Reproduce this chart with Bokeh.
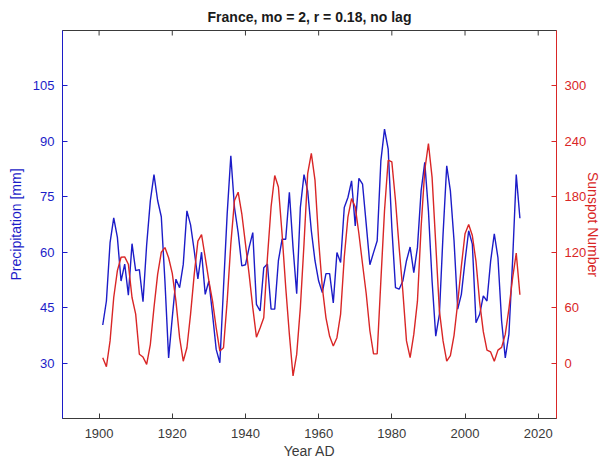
import math

from bokeh.plotting import figure
from bokeh.models import LinearAxis, Range1d, FixedTicker
from bokeh.embed import file_html
from bokeh.resources import INLINE

# Yearly series, 1901-2015
years = list(range(1901, 2016))

precip_mm = [
    40.3, 46.8, 62.6, 69.3, 64.0, 52.2, 56.8, 48.4, 62.3, 55.0,
    55.3, 46.6, 62.0, 73.9, 81.0, 74.0, 69.6, 52.0, 31.4, 42.3,
    52.7, 50.4, 56.7, 71.2, 67.4, 60.4, 52.8, 60.0, 48.6, 52.2,
    43.2, 33.7, 30.1, 50.4, 70.3, 86.1, 72.1, 65.3, 56.3, 56.6,
    61.3, 65.3, 45.9, 44.1, 55.8, 56.8, 44.6, 44.6, 57.7, 63.5,
    63.5, 76.2, 61.3, 48.8, 72.1, 81.0, 76.6, 65.8, 57.7, 52.2,
    49.1, 54.2, 54.2, 46.3, 59.9, 57.2, 72.1, 74.8, 79.3, 67.1,
    80.0, 78.4, 67.6, 56.6, 59.9, 63.1, 84.7, 93.3, 87.9, 66.7,
    50.4, 50.0, 52.2, 57.7, 61.4, 54.5, 61.3, 76.6, 84.3, 71.2,
    52.2, 37.3, 43.2, 64.9, 83.4, 76.6, 63.1, 44.6, 48.6, 57.6,
    65.8, 62.2, 40.9, 43.2, 48.2, 46.8, 57.6, 65.0, 58.5, 41.4,
    31.4, 37.8, 57.6, 81.0, 69.2,
]

sunspots = [
    5.8, -4.0, 24.0, 71.0, 100.0, 114.5, 115.0, 107.0, 71.0, 53.0,
    9.5, 6.5, -1.4, 20.0, 60.0, 96.0, 120.0, 125.0, 114.0, 97.0,
    67.0, 27.5, 2.0, 16.6, 53.0, 96.0, 132.0, 139.0, 114.5, 89.0,
    67.0, 38.0, 13.0, 16.6, 67.0, 129.0, 176.0, 185.0, 161.6, 129.0,
    96.0, 60.0, 28.0, 38.0, 49.0, 114.0, 169.0, 203.0, 190.6, 140.0,
    82.0, 31.0, -14.0, 9.4, 60.0, 129.0, 205.0, 227.0, 198.0, 132.6,
    82.0, 49.0, 29.0, 18.5, 27.5, 53.0, 114.5, 158.0, 178.0, 169.0,
    140.0, 107.0, 75.0, 35.0, 10.0, 10.0, 89.0, 165.0, 219.6, 217.8,
    176.0, 125.0, 78.0, 24.0, 5.8, 31.0, 67.0, 147.0, 208.7, 237.7,
    201.0, 129.0, 56.5, 24.0, 2.0, 8.0, 30.0, 65.0, 105.0, 140.0,
    150.0, 138.0, 110.0, 66.0, 34.0, 14.0, 12.0, 2.0, 14.0, 17.0,
    31.0, 59.0, 92.0, 119.0, 74.0,
]

year_ticks = [1900, 1920, 1940, 1960, 1980, 2000, 2020]
precip_ticks = [30, 45, 60, 75, 90, 105]
sunspot_ticks = [0, 60, 120, 180, 240, 300]

BLUE = "#1c1cc8"
RED = "#d92626"
AXIS_GRAY = "#3a3a3a"
FONT = "Liberation Sans"

x_rng = Range1d(1890, 2025)
y_rng = Range1d(15, 120)

p = figure(
    width=604, height=464,
    x_range=x_rng, y_range=y_rng,
    output_backend="svg", toolbar_location=None,
    min_border_left=62, min_border_right=48,
    min_border_top=30, min_border_bottom=46,
    title="France, mo = 2, r = 0.18, no lag",
)
p.extra_y_ranges = {"sun": Range1d(-60, 360)}
p.grid.visible = False
p.outline_line_color = AXIS_GRAY
p.background_fill_color = "white"
p.border_fill_color = "white"

p.title.align = "center"
p.title.text_font = FONT
p.title.text_font_size = "14px"
p.title.text_font_style = "bold"
p.title.text_color = "#1a1a1a"
p.title.standoff = 12

p.line(years, precip_mm, color=BLUE, line_width=1.4)
p.line(years, sunspots, color=RED, line_width=1.4, y_range_name="sun")

# inward tick marks along the top edge of the box (outer half is clipped away)
p.scatter(year_ticks, [y_rng.end] * len(year_ticks), marker="dash",
          angle=math.pi / 2, size=10, line_color=AXIS_GRAY, line_width=1)


def style_axis(ax, color, label_color):
    ax.axis_line_color = color
    ax.major_tick_line_color = color
    ax.major_tick_in = 5
    ax.major_tick_out = 0
    ax.minor_tick_line_color = None
    ax.major_label_text_color = label_color
    ax.major_label_text_font = FONT
    ax.major_label_text_font_size = "13px"
    ax.axis_label_text_color = label_color
    ax.axis_label_text_font = FONT
    ax.axis_label_text_font_size = "14px"
    ax.axis_label_text_font_style = "normal"


# bottom axis
xa = p.xaxis[0]
xa.ticker = FixedTicker(ticks=year_ticks)
xa.axis_label = "Year AD"
style_axis(xa, AXIS_GRAY, AXIS_GRAY)
xa.major_label_standoff = 10
xa.axis_label_standoff = 2

# left axis: precipitation
ya = p.yaxis[0]
ya.ticker = FixedTicker(ticks=precip_ticks)
ya.axis_label = "Precipitation [mm]"
style_axis(ya, BLUE, BLUE)
ya.major_label_standoff = 8
ya.axis_label_standoff = 6

# right axis: sunspot number
ra = LinearAxis(y_range_name="sun", ticker=FixedTicker(ticks=sunspot_ticks),
                axis_label="Sunspot Number")
style_axis(ra, RED, RED)
ra.major_label_standoff = 8
ra.axis_label_standoff = -4
p.add_layout(ra, "right")

open("out.html", "w").write(file_html(p, INLINE))
